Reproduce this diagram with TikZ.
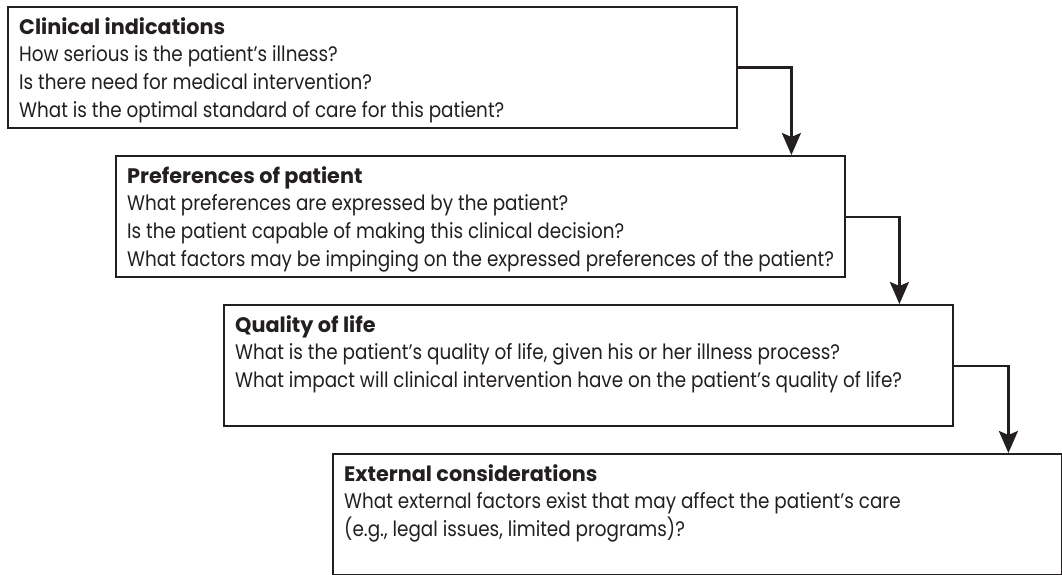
\documentclass[tikz,border=0pt]{standalone}
\usepackage{fontspec}
\setmainfont{Poppins}[FakeStretch=0.875]
\newfontfamily\headfont{Poppins}[FakeStretch=0.99]
\usepackage{tikz}
\usetikzlibrary{arrows.meta}
\definecolor{inkgray}{HTML}{231F20}

\begin{document}
\begin{tikzpicture}[x=1pt,y=-1pt]

\tikzset{qbox/.style={
    draw=inkgray, line width=2.4pt, anchor=north west, inner sep=0pt,
    minimum width=729pt, minimum height=121pt
  },
  qtext/.style={
    anchor=north west, inner sep=0pt, align=left, text=inkgray,
    font=\fontsize{21}{27.7}\selectfont
  },
  flow/.style={draw=inkgray, line width=2.4pt,
    -{Stealth[length=22pt,width=19pt,inset=4pt]}}
}
\newcommand{\qhead}[1]{{\headfont\bfseries #1}}
\useasboundingbox (0,0) rectangle (1062,575);

% the four boxes
\node[qbox] (clin) at (7,6) {};
\node[qbox] (pref) at (115,155) {};
\node[qbox] (qual) at (223,304) {};
\node[qbox] (ext) at (332,453) {};

% their texts
\node[qtext] (clin-txt) at ([shift={(12pt,-11pt)}]clin.north west)
  {\qhead{Clinical indications}\\
   How serious is the patient’s illness?\\
   Is there need for medical intervention?\\
   What is the optimal standard of care for this patient?};
\node[qtext] (pref-txt) at ([shift={(12pt,-11pt)}]pref.north west)
  {\qhead{Preferences of patient}\\
   What preferences are expressed by the patient?\\
   Is the patient capable of making this clinical decision?\\
   What factors may be impinging on the expressed preferences of the patient?};
\node[qtext] (qual-txt) at ([shift={(12pt,-11pt)}]qual.north west)
  {\qhead{Quality of life}\\
   What is the patient’s quality of life, given his or her illness process?\\
   What impact will clinical intervention have on the patient’s quality of life?};
\node[qtext] (ext-txt) at ([shift={(12pt,-11pt)}]ext.north west)
  {\qhead{External considerations}\\
   What external factors exist that may affect the patient’s care\\
   (e.g., legal issues, limited programs)?};

% connectors
\draw[flow] (clin.east) -| ([xshift=-55pt]pref.north east);
\draw[flow] (pref.east) -| ([xshift=-55pt]qual.north east);
\draw[flow] (qual.east) -| ([xshift=-55pt]ext.north east);

\end{tikzpicture}
\end{document}
